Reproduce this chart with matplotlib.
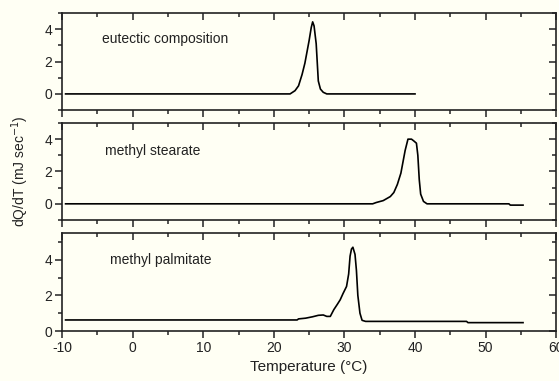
import matplotlib.pyplot as plt
from matplotlib.ticker import MultipleLocator

plt.rcParams['font.family'] = ['Liberation Sans', 'DejaVu Sans']
plt.rcParams['axes.unicode_minus'] = False

# eutectic composition
eut_x = [-9.5, 22.3, 23.0, 23.5, 24.0, 24.4, 24.7, 25.0, 25.3, 25.5, 25.7, 26.0,
         26.3, 26.6, 27.0, 27.5, 40.0]
eut_y = [0, 0, 0.2, 0.5, 1.2, 1.9, 2.6, 3.3, 4.1, 4.45, 4.2, 3.1,
         0.8, 0.3, 0.1, 0, 0]

# methyl stearate
ste_x = [-9.5, 34.0, 34.5, 35.5, 36.5, 37.0, 37.5, 38.0, 38.3, 38.6, 39.0, 39.5,
         39.8, 40.2, 40.4, 40.6, 40.8, 41.2, 41.7, 53.3, 53.5, 55.3]
ste_y = [0, 0, 0.08, 0.2, 0.45, 0.7, 1.2, 1.9, 2.6, 3.3, 4.0, 4.0,
         3.9, 3.75, 3.0, 1.5, 0.6, 0.15, 0, 0, -0.08, -0.08]

# methyl palmitate
pal_x = [-9.5, 23.3, 23.5, 24.5, 25.5, 26.3, 27.0, 27.5, 28.0, 28.5, 29.0, 29.4,
         29.8, 30.3, 30.6, 30.8, 31.0, 31.2, 31.5, 31.7, 31.9, 32.2, 32.5, 33.0,
         47.3, 47.5, 55.3]
pal_y = [0.62, 0.62, 0.68, 0.72, 0.8, 0.88, 0.9, 0.82, 0.82, 1.2, 1.5, 1.75,
         2.1, 2.5, 3.2, 4.2, 4.6, 4.7, 4.3, 3.4, 2.0, 1.0, 0.6, 0.54,
         0.54, 0.47, 0.47]

labels = ['eutectic composition', 'methyl stearate', 'methyl palmitate']
ylims = [(-1, 5), (-1, 5), (0, 5.5)]
label_pos = [(-4.3, 3.4), (-3.9, 3.25), (-3.2, 4.0)]

bg = '#fffff4'
fig = plt.figure(figsize=(5.59, 3.81), dpi=100, facecolor=bg)

boxes = [[0.111, 0.711, 0.884, 0.255],
         [0.111, 0.4226, 0.884, 0.2546],
         [0.111, 0.1312, 0.884, 0.2573]]
series = [(eut_x, eut_y), (ste_x, ste_y), (pal_x, pal_y)]

for i, (box, (xs, ys)) in enumerate(zip(boxes, series)):
    ax = fig.add_axes(box, facecolor=bg)
    ax.plot(xs, ys, color='black', lw=1.2)
    ax.set_xlim(-10, 60)
    ax.set_ylim(*ylims[i])
    ax.xaxis.set_major_locator(MultipleLocator(10))
    ax.xaxis.set_minor_locator(MultipleLocator(5))
    ax.yaxis.set_major_locator(MultipleLocator(2))
    ax.yaxis.set_minor_locator(MultipleLocator(1))
    for s in ax.spines.values():
        s.set_linewidth(1.2)
        s.set_color('#222222')
    ax.tick_params(which='both', top=True, right=True, width=1.1, labelsize=10,
                   color='#222222', labelcolor='#222222', pad=2)
    ax.tick_params(which='major', length=5)
    ax.tick_params(which='minor', length=3)
    ax.tick_params(axis='both', which='both', direction='out')
    # top and right ticks point inward
    for t in ax.xaxis.get_major_ticks() + ax.xaxis.get_minor_ticks():
        t.tick2line.set_marker(3)
    for t in ax.yaxis.get_major_ticks() + ax.yaxis.get_minor_ticks():
        t.tick2line.set_marker(0)
    if i < 2:
        ax.tick_params(axis='x', labelbottom=False)
    ax.text(label_pos[i][0], label_pos[i][1], labels[i], fontsize=10,
            va='center', ha='left', color='#222222')
    if i == 1:
        ax.set_ylabel('dQ/dT (mJ sec$^{-1}$)', fontsize=10, labelpad=10,
                      color='#222222')
    if i == 2:
        ax.set_xlabel('Temperature (°C)', fontsize=11, labelpad=4,
                      color='#222222')

fig.savefig('out.png', dpi=100, facecolor=bg)
